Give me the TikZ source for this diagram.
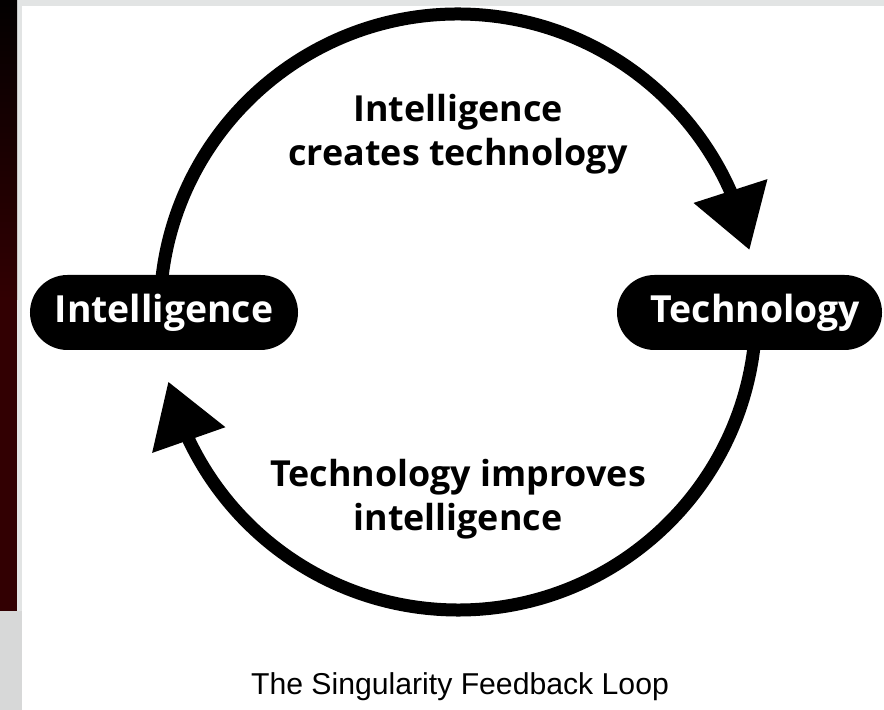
\documentclass[tikz,border=0pt]{standalone}
\usepackage{fontspec}
\setmainfont{Open Sans}
\newfontfamily\capfont{Liberation Sans}
\usetikzlibrary{arrows.meta, bending, positioning}

\definecolor{maroon}{RGB}{50,0,2}
\definecolor{framegray}{RGB}{226,228,228}

\begin{document}
\begin{tikzpicture}[x=1bp, y=1bp,
		pill/.style={fill=black, text=white, rounded corners=37.5bp, minimum height=75bp, inner sep=0pt,
			font=\bfseries\fontsize{37.5}{44}\selectfont},
		phrase/.style={align=center, font=\bfseries\fontsize{36}{44}\selectfont},
		cycleflow/.style={line width=13bp, -{Triangle[length=62bp, width=74bp, flex]}}]
	\useasboundingbox (0,0) rectangle (884,710);
	% frame on the top and left edge
	\fill[framegray] (0,0) rectangle (884,710);
	\fill[white] (22,0) rectangle (884,704);
	\shade[top color=black!95!maroon, bottom color=maroon] (0,410) rectangle (17,710);
	\fill[maroon] (0,99) rectangle (17,410.5);
	\fill[framegray!95!black] (0,0) rectangle (22,99);

	% the loop
	\coordinate (hub) at (458,398);
	\draw[cycleflow] ([shift={(176:298)}]hub) arc[start angle=176, end angle=12, radius=298];
	\draw[cycleflow] ([shift={(-4:298)}]hub) arc[start angle=-4, end angle=-166.5, radius=298];

	\node[pill, minimum width=268bp] (intel) at (164,397.5) {Intelligence};
	\node[pill, minimum width=265bp] (tech) at (749.5,397.5) {\hspace*{12bp}Technology};

	\node[phrase] (creates) at (458,576) {Intelligence\\creates technology};
	\node[phrase] (improves) at (458,211) {Technology improves\\intelligence};

	\node[font=\capfont\fontsize{30.3}{34}\selectfont, anchor=base] (title) at (460,15) {The Singularity Feedback Loop};
\end{tikzpicture}
\end{document}
